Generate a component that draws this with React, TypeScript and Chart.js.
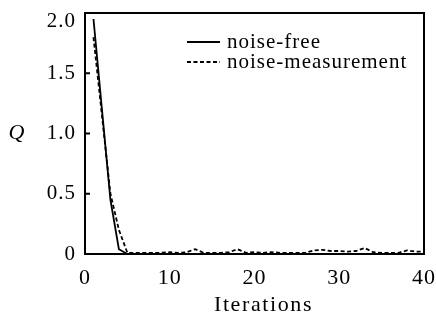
import React, { useEffect, useRef } from "react";
import { Chart, registerables } from "chart.js";

Chart.register(...registerables);

const iterations: number[] = Array.from({ length: 40 }, (_, i) => i + 1);
const noiseFree: number[] = [
  1.95, 1.2, 0.45, 0.04, 0, 0, 0, 0, 0, 0,
  0, 0, 0, 0, 0, 0, 0, 0, 0, 0,
  0, 0, 0, 0, 0, 0, 0, 0, 0, 0,
  0, 0, 0, 0, 0, 0, 0, 0, 0, 0,
];
const noiseMeasurement: number[] = [
  1.8, 1.15, 0.5, 0.2, 0.01, 0.01, 0.01, 0.01, 0.01, 0.015,
  0.01, 0.015, 0.04, 0.01, 0.01, 0.01, 0.015, 0.04, 0.01, 0.015,
  0.01, 0.015, 0.01, 0.01, 0.01, 0.01, 0.03, 0.035, 0.025, 0.025,
  0.02, 0.025, 0.05, 0.015, 0.01, 0.01, 0.01, 0.03, 0.02, 0.02,
];
const seriesNames: string[] = ["noise-free", "noise-measurement"];
const yTicks: number[] = [0, 0.5, 1.0, 1.5, 2.0];
const xTicks: number[] = [0, 10, 20, 30, 40];
const xTitle = "Iterations";
const yTitle = "Q";

const SERIF = "'Liberation Serif', 'Times New Roman', serif";

const fmtY = (v: number) => (v === 0 ? "0" : v.toFixed(1));

const framePlugin = {
  id: "frame",
  beforeDraw(chart: any) {
    chart.ctx.letterSpacing = "1px";
  },
  afterDraw(chart: any) {
    const { ctx, chartArea } = chart;
    const { left, right, top, bottom } = chartArea;
    const ys = chart.scales.y;
    ctx.save();
    ctx.letterSpacing = "1px";
    ctx.strokeStyle = "#000";
    ctx.lineWidth = 2;
    ctx.setLineDash([]);
    ctx.strokeRect(left, top, right - left, bottom - top);
    // inward ticks on y
    ctx.beginPath();
    for (const v of yTicks) {
      if (v === yTicks[0] || v === yTicks[yTicks.length - 1]) continue;
      const y = ys.getPixelForValue(v);
      ctx.moveTo(left, y);
      ctx.lineTo(left + 5, y);
    }
    ctx.stroke();
    // top tick label (drawn slightly below the top edge)
    ctx.fillStyle = "#000";
    ctx.font = `21px ${SERIF}`;
    ctx.textAlign = "right";
    ctx.textBaseline = "middle";
    const topV = yTicks[yTicks.length - 1];
    ctx.fillText(fmtY(topV), left - 9, ys.getPixelForValue(topV) + 8);
    // y title
    ctx.font = `italic 22px ${SERIF}`;
    ctx.textAlign = "center";
    ctx.fillText(yTitle, 17, ys.getPixelForValue(1.0));
    // x title
    ctx.font = `22px ${SERIF}`;
    ctx.letterSpacing = "1.6px";
    ctx.fillText(xTitle, (left + right) / 2 + 9, bottom + 51);
    ctx.letterSpacing = "1px";
    // legend
    const datasets = chart.data.datasets;
    ctx.font = `21px ${SERIF}`;
    ctx.textAlign = "left";
    const lx0 = 187;
    const lx1 = 220;
    const ly = [42, 62];
    datasets.forEach((ds: any, i: number) => {
      ctx.beginPath();
      ctx.lineWidth = ds.borderWidth;
      ctx.setLineDash(ds.borderDash || []);
      ctx.moveTo(lx0, ly[i]);
      ctx.lineTo(lx1, ly[i]);
      ctx.stroke();
      ctx.setLineDash([]);
      ctx.fillText(ds.label, 227, ly[i]);
    });
    ctx.restore();
  },
};

export default function App() {
  const ref = useRef<HTMLCanvasElement | null>(null);
  useEffect(() => {
    let chart: any = null;
    let cancelled = false;
    const make = () => {
      if (cancelled || !ref.current) return;
      chart = new Chart(ref.current, {
        type: "line",
        data: {
          datasets: [
            {
              label: seriesNames[0],
              data: iterations.map((x, i) => ({ x, y: noiseFree[i] })),
              borderColor: "#000",
              borderWidth: 1.8,
              pointRadius: 0,
              tension: 0,
            },
            {
              label: seriesNames[1],
              data: iterations.map((x, i) => ({ x, y: noiseMeasurement[i] })),
              borderColor: "#000",
              borderWidth: 1.8,
              borderDash: [4, 2.5],
              pointRadius: 0,
              tension: 0,
            },
          ],
        },
        options: {
          animation: false,
          responsive: false,
          devicePixelRatio: 1,
          layout: { padding: { top: 13, right: 12, left: 0, bottom: 0 } },
          plugins: { legend: { display: false }, tooltip: { enabled: false } },
          scales: {
            x: {
              type: "linear",
              min: xTicks[0],
              max: xTicks[xTicks.length - 1],
              afterBuildTicks: (s: any) => {
                s.ticks = xTicks.map((v) => ({ value: v }));
              },
              afterFit: (s: any) => {
                s.height = 68;
                s.paddingLeft = 0;
                s.paddingRight = 0;
              },
              grid: { display: false, drawTicks: false },
              border: { display: false },
              ticks: {
                color: "#000",
                padding: 11,
                maxRotation: 0,
                font: { family: SERIF, size: 22 },
              },
              title: { display: false, text: xTitle },
            },
            y: {
              type: "linear",
              min: yTicks[0],
              max: yTicks[yTicks.length - 1],
              afterBuildTicks: (s: any) => {
                s.ticks = yTicks.map((v) => ({ value: v }));
              },
              afterFit: (s: any) => {
                s.width = 85;
                s.paddingTop = 0;
                s.paddingBottom = 0;
              },
              grid: { display: false, drawTicks: false },
              border: { display: false },
              ticks: {
                color: "#000",
                padding: 9,
                font: { family: SERIF, size: 21 },
                callback: (v: any) =>
                  v === yTicks[yTicks.length - 1] ? "" : fmtY(Number(v)),
              },
            },
          },
        },
        plugins: [framePlugin],
      });
    };
    const fonts: any = (document as any).fonts;
    if (fonts && fonts.load) {
      Promise.all([
        fonts.load("21px 'Liberation Serif'"),
        fonts.load("italic 22px 'Liberation Serif'"),
      ]).then(make, make);
    } else {
      make();
    }
    return () => {
      cancelled = true;
      if (chart) chart.destroy();
    };
  }, []);
  return (
    <div style={{ position: "absolute", left: 0, top: 0, width: 436, height: 322, background: "#fff" }}>
      <canvas ref={ref} width={436} height={322} style={{ width: 436, height: 322 }} />
    </div>
  );
}
